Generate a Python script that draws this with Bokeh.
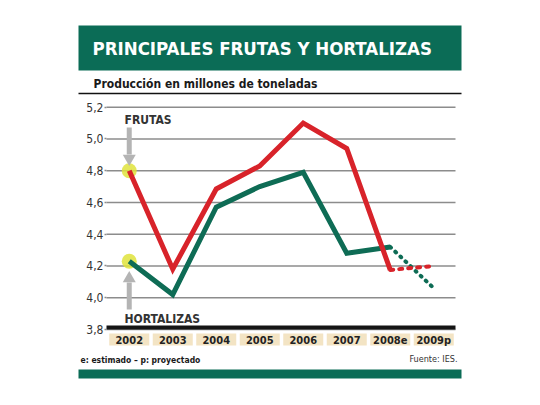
from bokeh.plotting import figure
from bokeh.models import Range1d, FixedTicker, LinearAxis
from bokeh.core.properties import value
from bokeh.embed import file_html
from bokeh.resources import INLINE

# ---------------- data ----------------
years = ["2002", "2003", "2004", "2005", "2006", "2007", "2008e", "2009p"]
frutas = [4.80, 4.18, 4.685, 4.83, 5.10, 4.94, 4.175, 4.20]
hortalizas = [4.23, 4.02, 4.57, 4.70, 4.79, 4.28, 4.32, 4.06]
n_real = 7  # points up to 2008e drawn solid; last segment (to 2009p) dotted
y_ticks = [3.8, 4.0, 4.2, 4.4, 4.6, 4.8, 5.0, 5.2]
y_tick_labels = ["3,8", "4,0", "4,2", "4,4", "4,6", "4,8", "5,0", "5,2"]
title = "PRINCIPALES FRUTAS Y HORTALIZAS"
subtitle = "Producción en millones de toneladas"
note = "e: estimado \u2013 p: proyectado"
source = "Fuente: IES."

x_pos = list(range(len(years)))

# ---------------- layout helpers (picture pixel -> data) ----------------
W, H = 524, 389
PX_X = 43.5      # pixels per category
X0 = 128.75      # picture x of first category
PX_Y = 158.8     # pixels per unit
Y0 = 329.0       # picture y of 3.8

def xpx(px):
    return (px - X0) / PX_X

def ypx(py):
    return 3.8 + (Y0 - py) / PX_Y

FONT = value("DejaVu Sans Condensed")
GREEN_HDR = "#0b6c56"
RED = "#d8232a"
GREEN = "#0e6c55"
BEIGE = "#f3e4c4"
GRID = "#8c8c8c"

p = figure(width=W, height=H, x_range=Range1d(xpx(0), xpx(W)),
           y_range=Range1d(ypx(H), ypx(0)),
           x_axis_location=None, y_axis_location=None, toolbar_location=None,
           output_backend="svg", min_border=0, outline_line_color=None)
p.grid.visible = False

# ---------------- header ----------------
p.quad(left=xpx(78), right=xpx(461), top=ypx(25), bottom=ypx(70),
       fill_color=GREEN_HDR, line_color=None)
p.text(x=[xpx(92)], y=[ypx(48)], text=[title], text_font=FONT, text_font_style="bold",
       text_font_size="18.5px", text_color="white", text_baseline="middle")
p.text(x=[xpx(93)], y=[ypx(83)], text=[subtitle], text_font=FONT, text_font_style="bold",
       text_font_size="12px", text_color="#1a1a1a", text_baseline="middle")
p.segment(x0=[xpx(78)], x1=[xpx(461)], y0=[ypx(93)], y1=[ypx(93)],
          line_color="#111111", line_width=1.5)

# ---------------- y axis + grid ----------------
yax = LinearAxis(fixed_location=xpx(106), ticker=FixedTicker(ticks=y_ticks))
yax.major_label_overrides = {t: l for t, l in zip(y_ticks, y_tick_labels)}
yax.major_label_text_font = "DejaVu Sans Condensed"
yax.major_label_text_font_size = "12px"
yax.major_label_text_color = "#333333"
yax.major_label_standoff = 1
yax.axis_line_color = None
yax.major_tick_out = 2
yax.major_tick_in = 0
yax.major_tick_line_color = GRID
yax.major_tick_line_width = 1.5
yax.minor_tick_line_color = None
p.add_layout(yax, "left")

p.segment(x0=xpx(106), x1=xpx(455), y0=y_ticks, y1=y_ticks,
          line_color=GRID, line_width=1.5)
p.quad(left=xpx(106), right=xpx(455), bottom=ypx(329), top=ypx(325),
       fill_color="#151515", line_color=None)

# category boxes
p.rect(x=x_pos, y=ypx(339), width=0.92, height=12 / PX_Y,
       fill_color=BEIGE, line_color=None)
p.text(x=x_pos, y=ypx(339.5), text=years, text_font=FONT, text_font_style="bold",
       text_font_size="11px", text_color="#222222", text_align="center",
       text_baseline="middle")

# highlight circles at first points
p.scatter(x=[x_pos[0], x_pos[0]], y=[frutas[0], hortalizas[0]], size=15,
          fill_color="#dfe33c", fill_alpha=0.85, line_color=None)

# arrows + labels
ARROW = "#b4b4b4"
p.segment(x0=[x_pos[0]], x1=[x_pos[0]], y0=[ypx(127)], y1=[ypx(154)],
          line_color=ARROW, line_width=5)
p.scatter(x=[x_pos[0]], y=[ypx(158)], marker="triangle", size=13, angle=3.14159,
          fill_color=ARROW, line_color=None)
p.segment(x0=[x_pos[0]], x1=[x_pos[0]], y0=[ypx(309)], y1=[ypx(282)],
          line_color=ARROW, line_width=5)
p.scatter(x=[x_pos[0]], y=[ypx(278)], marker="triangle", size=13,
          fill_color=ARROW, line_color=None)
p.text(x=[xpx(124)], y=[ypx(119)], text=["FRUTAS"], text_font=FONT,
       text_font_style="bold", text_font_size="12px", text_color="#333333",
       text_baseline="middle")
p.text(x=[xpx(124)], y=[ypx(318)], text=["HORTALIZAS"], text_font=FONT,
       text_font_style="bold", text_font_size="12px", text_color="#333333",
       text_baseline="middle")

# series
p.line(x=x_pos[:n_real], y=hortalizas[:n_real], line_color=GREEN, line_width=5,
       line_join="miter")
p.line(x=x_pos[n_real - 1:], y=hortalizas[n_real - 1:], line_color=GREEN, line_width=4,
       line_dash="1 6", line_cap="round")
p.line(x=x_pos[:n_real], y=frutas[:n_real], line_color=RED, line_width=5,
       line_join="miter")
p.line(x=x_pos[n_real - 1:], y=frutas[n_real - 1:], line_color=RED, line_width=4,
       line_dash="3 6", line_cap="round")

# ---------------- footer ----------------
p.text(x=[xpx(80)], y=[ypx(359)], text=[note], text_font=FONT, text_font_style="bold",
       text_font_size="8.5px", text_color="#1a1a1a", text_baseline="middle")
p.text(x=[xpx(457)], y=[ypx(358)], text=[source], text_font=FONT, text_font_size="9px",
       text_color="#333333", text_baseline="middle", text_align="right")
p.quad(left=xpx(78), right=xpx(461), top=ypx(369), bottom=ypx(378),
       fill_color=GREEN_HDR, line_color=None)

open("out.html", "w").write(file_html(p, INLINE))
